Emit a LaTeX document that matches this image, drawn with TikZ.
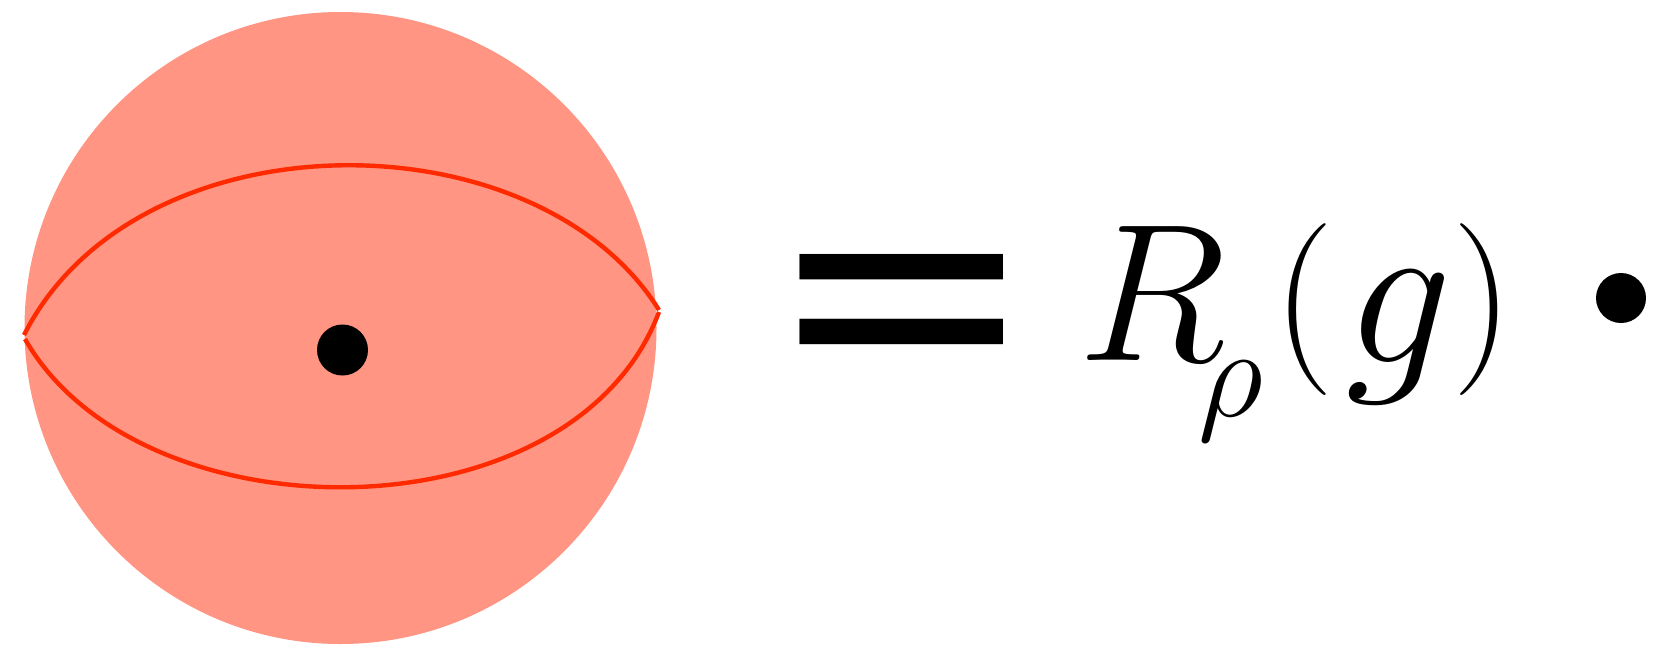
\RequirePackage{fix-cm}
\documentclass[tikz,border=0pt]{standalone}
\usepackage{fontspec}
\newfontfamily\eqfont{DejaVu Serif}
\definecolor{diskfill}{HTML}{FF9582}
\definecolor{curvered}{HTML}{FF2A00}

\begin{document}
\begin{tikzpicture}[
    x=0.5pt, y=-0.5pt,
    dot/.style={circle, fill=black, inner sep=0pt, minimum size=25.5pt},
    sym/.style={inner sep=0pt, anchor=base west},
    curve/.style={curvered, line width=2.2pt},
]
    \useasboundingbox (0,0) rectangle (1654,644);
    \fill[diskfill] (340.5,328) circle[radius=158pt];
    \coordinate (lt) at (24,335);
    \coordinate (lb) at (25,339);
    \coordinate (rt) at (659,310);
    \coordinate (rb) at (659,312);
    \draw[curve] (lt) .. controls (136,113) and (536,113) .. (rt);
    \draw[curve] (lb) .. controls (140,541) and (573,541) .. (rb);
    \node[dot] (centre) at (342.5,350) {};

    \node[inner sep=0pt, anchor=base, font=\eqfont\fontsize{162.6}{162.6}\selectfont] (eq) at (902,401) {=};
    \node[sym, font=\fontsize{98}{98}\selectfont] (rsym) at (1078,360)
        {$R$\kern-13.9pt\raisebox{-28pt}{\fontsize{64}{64}\selectfont$\rho$}};
    \node[sym, font=\fontsize{86}{86}\selectfont] (lpar) at (1273,352) {$($};
    \node[sym, font=\fontsize{106}{106}\selectfont] (gsym) at (1345,362) {$g$};
    \node[sym, font=\fontsize{86}{86}\selectfont] (rpar) at (1452,352) {$)$};
    \node[dot, minimum size=25pt] (bul) at (1621,298) {};
\end{tikzpicture}
\end{document}
